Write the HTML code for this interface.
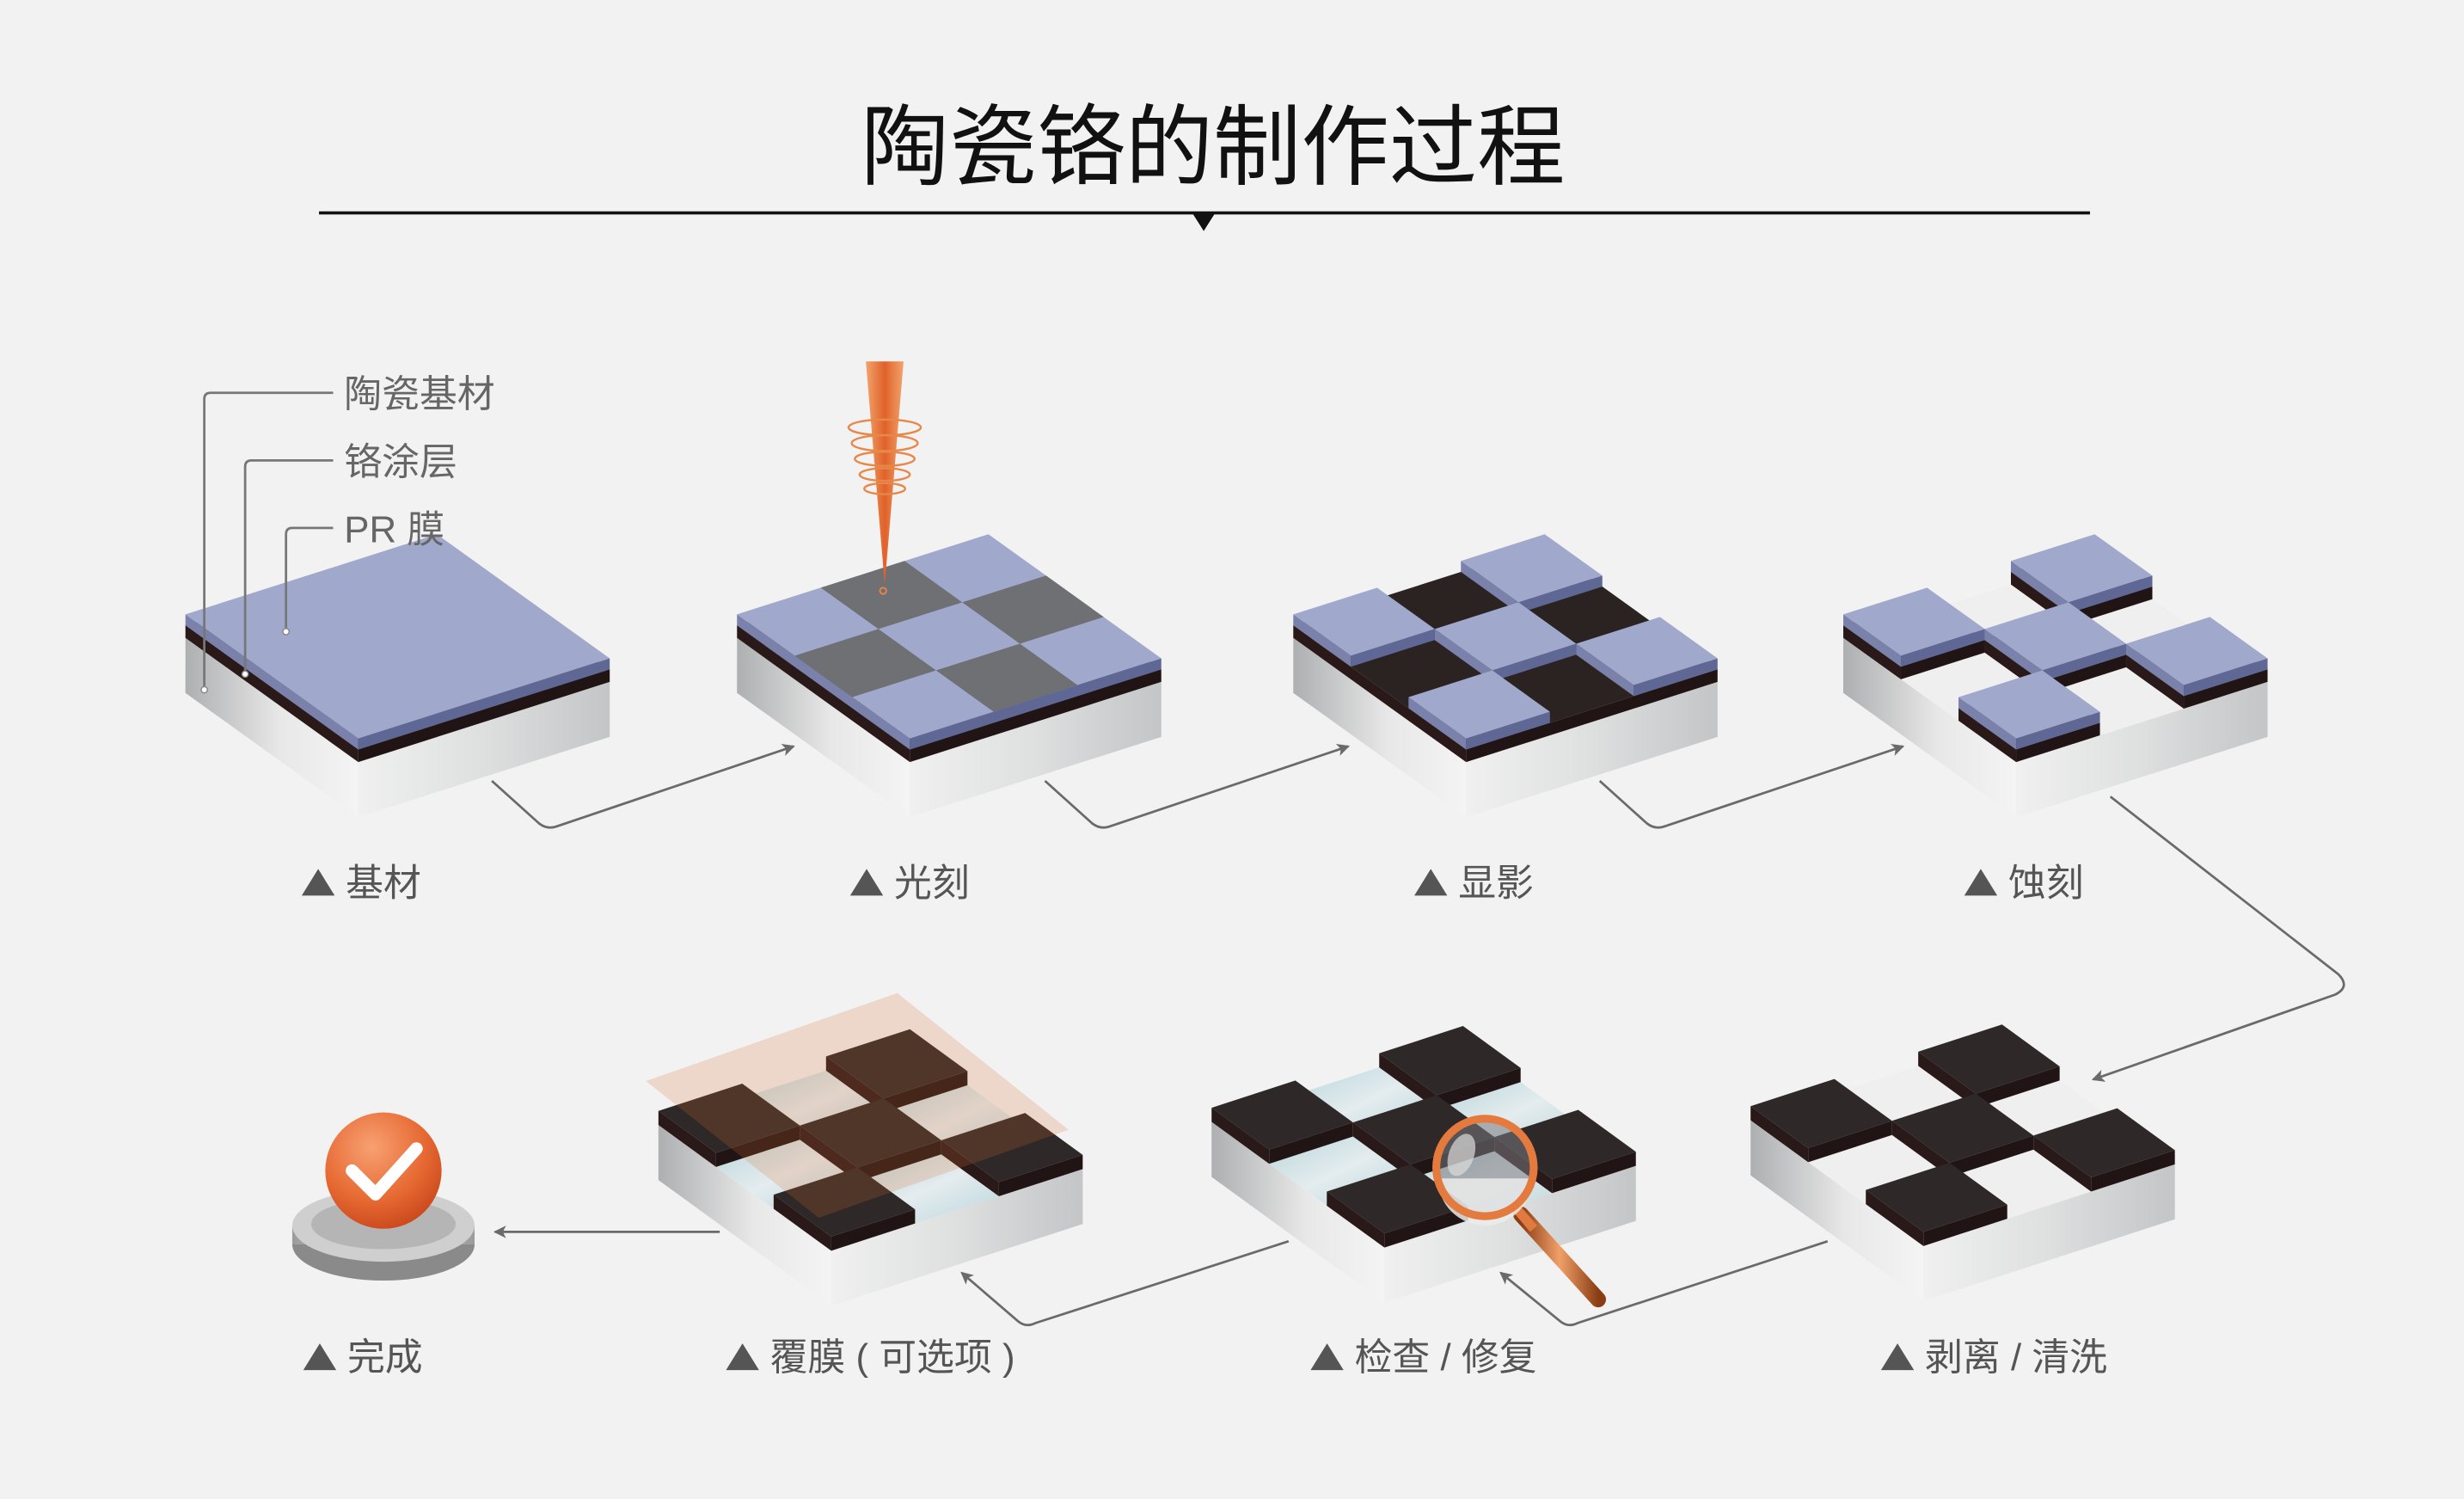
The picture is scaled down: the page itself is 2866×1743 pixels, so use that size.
<!DOCTYPE html>
<html><head><meta charset="utf-8">
<style>
html,body{margin:0;padding:0;background:#f2f2f2;}
svg{display:block;}
text{font-family:"Liberation Sans","Noto Sans CJK SC",sans-serif;}
</style></head>
<body>
<svg id="s" width="2866" height="1743" viewBox="0 0 1568 954" preserveAspectRatio="none" xmlns="http://www.w3.org/2000/svg">
<defs>
<linearGradient id="gl" x1="0" y1="0" x2="1" y2="0"><stop offset="0" stop-color="#aeafb1"/><stop offset="0.55" stop-color="#e8e8e8"/><stop offset="1" stop-color="#f4f4f4"/></linearGradient>
<linearGradient id="gr" x1="0" y1="0" x2="1" y2="0"><stop offset="0" stop-color="#f0f0f0"/><stop offset="0.5" stop-color="#dedfdf"/><stop offset="1" stop-color="#c3c5c7"/></linearGradient>
<linearGradient id="cy" x1="0" y1="0" x2="1" y2="1"><stop offset="0" stop-color="#b9d6dc"/><stop offset="0.5" stop-color="#e4ecee"/><stop offset="1" stop-color="#b9d6dc"/></linearGradient>
<linearGradient id="beam" x1="0" y1="0" x2="1" y2="0"><stop offset="0" stop-color="#f2a36d"/><stop offset="0.5" stop-color="#e0622a"/><stop offset="1" stop-color="#f2a36d"/></linearGradient>
<radialGradient id="ball" cx="0.4" cy="0.3" r="0.75"><stop offset="0" stop-color="#f7a173"/><stop offset="0.6" stop-color="#e76a33"/><stop offset="1" stop-color="#c9461b"/></radialGradient>
<linearGradient id="disk" x1="0" y1="0" x2="1" y2="0"><stop offset="0" stop-color="#9b9b9b"/><stop offset="0.5" stop-color="#d6d6d6"/><stop offset="1" stop-color="#9b9b9b"/></linearGradient>
<linearGradient id="handle" x1="0" y1="0" x2="1" y2="0"><stop offset="0" stop-color="#8a3d14"/><stop offset="0.5" stop-color="#f0a067"/><stop offset="1" stop-color="#8a3d14"/></linearGradient>
<marker id="ar" markerWidth="8" markerHeight="8" refX="7" refY="4" orient="auto" markerUnits="userSpaceOnUse"><path d="M0,0 L8,4 L0,8 L2,4 Z" fill="#6a6a6a"/></marker>
</defs>
<rect width="1568" height="954" fill="#f2f2f2"/>
<g id="blocks"></g>

<text x="772" y="113" font-size="56" text-anchor="middle" fill="#111">陶瓷铬的制作过程</text>
<line x1="203" y1="135.5" x2="1330" y2="135.5" stroke="#111" stroke-width="2"/>
<polygon points="759,136 773,136 766,147" fill="#111"/>

<g fill="none" stroke="#777" stroke-width="1.5">
<path d="M130,438 V254 Q130,250 134,250 H212"/>
<path d="M156,428 V297 Q156,293 160,293 H212"/>
<path d="M182,402 V340 Q182,336 186,336 H212"/>
</g>
<circle cx="130" cy="439" r="2" fill="#fff" stroke="#888" stroke-width="0.8"/>
<circle cx="156" cy="429" r="2" fill="#fff" stroke="#888" stroke-width="0.8"/>
<circle cx="182" cy="402" r="2" fill="#fff" stroke="#888" stroke-width="0.8"/>
<g font-size="24" fill="#666">
<text x="219" y="259">陶瓷基材</text>
<text x="219" y="302">铬涂层</text>
<text x="219" y="345">PR 膜</text>
</g>

<g fill="none" stroke="#6a6a6a" stroke-width="1.5" marker-end="url(#ar)">
<path d="M313,497 L343,524 Q348,528 354,526 L505,475"/>
<path d="M665,497 L695,524 Q700,528 706,526 L858,475"/>
<path d="M1018,497 L1048,524 Q1053,528 1059,526 L1211,475"/>
<path d="M1343,507 L1488,620 Q1496,628 1486,633 L1332,687"/>
<path d="M1163,790 L1004,842 Q998,845 993,841 L955,810"/>
<path d="M820,790 L659,842 Q653,845 648,841 L612,810"/>
<path d="M458,784 L315,784"/>
</g>

<g fill="#555">
<polygon points="192,570 213,570 202.5,553"/>
<polygon points="541,570 562,570 551.5,553"/>
<polygon points="900,570 921,570 910.5,553"/>
<polygon points="1250,570 1271,570 1260.5,553"/>
<polygon points="193,872 214,872 203.5,855"/>
<polygon points="462,872 483,872 472.5,855"/>
<polygon points="834,872 855,872 844.5,855"/>
<polygon points="1197,872 1218,872 1207.5,855"/>
</g>
<g font-size="24" fill="#555">
<text x="220" y="570">基材</text>
<text x="569" y="570">光刻</text>
<text x="928" y="570">显影</text>
<text x="1278" y="570">蚀刻</text>
<text x="221" y="872">完成</text>
<text x="490" y="872">覆膜 ( 可选项 )</text>
<text x="862" y="872">检查 / 修复</text>
<text x="1225" y="872">剥离 / 清洗</text>
</g>

<g id="over"></g>

<polygon points="551,230 575,230 563,372" fill="url(#beam)"/>
<g fill="none" stroke="#e8874a" stroke-width="1.3">
<ellipse cx="563" cy="272" rx="23" ry="5"/>
<ellipse cx="563" cy="282" rx="21" ry="5"/>
<ellipse cx="563" cy="292" rx="19" ry="4.5"/>
<ellipse cx="563" cy="302" rx="16" ry="4"/>
<ellipse cx="563" cy="311" rx="13" ry="3.5"/>
</g>
<circle cx="562" cy="376" r="2" fill="none" stroke="#e8874a"/>

<ellipse cx="244" cy="792" rx="58" ry="23" fill="#8a8a8a"/>
<rect x="186" y="780" width="116" height="12" fill="url(#disk)"/>
<ellipse cx="244" cy="780" rx="58" ry="23" fill="#cfcfcf"/>
<ellipse cx="244" cy="779" rx="46" ry="16" fill="#b5b5b5"/>
<circle cx="244" cy="745" r="37" fill="url(#ball)"/>
<polyline points="224,745 239,760 265,731" fill="none" stroke="#fff" stroke-width="8" stroke-linecap="round" stroke-linejoin="round"/>
</svg>
<script>
(function(){
var NS="http://www.w3.org/2000/svg";
var G=document.getElementById('blocks'), O=document.getElementById('over');
function poly(g,pts,fill){var p=document.createElementNS(NS,'polygon');p.setAttribute('points',pts.map(function(q){return q[0].toFixed(2)+','+q[1].toFixed(2)}).join(' '));p.setAttribute('fill',fill);g.appendChild(p);}
function mk(P,u,v){return function(a,b,z){return [P[0]+a*u[0]+b*v[0],P[1]+a*u[1]+b*v[1]-z];};}
function box(f,a0,b0,a1,b1,z0,z1,top,lf,rf){
 poly(G,[f(a0,b0,z0),f(a1,b0,z0),f(a1,b0,z1),f(a0,b0,z1)],lf);
 poly(G,[f(a1,b0,z0),f(a1,b1,z0),f(a1,b1,z1),f(a1,b0,z1)],rf);
 poly(G,[f(a0,b0,z1),f(a1,b0,z1),f(a1,b1,z1),f(a0,b1,z1)],top);
}
function face(f,a0,b0,a1,b1,z,fill,g){poly(g||G,[f(a0,b0,z),f(a1,b0,z),f(a1,b1,z),f(a0,b1,z)],fill);}
var pat=[[0,2],[0,0],[1,1],[2,2],[2,0]];
var comp=[[0,1],[1,0],[1,2],[2,1]];
var T=1/3;
var PT='#a0a8cc',PL='#7a81aa',PR='#5f6794',BT='#2e2828',BL='#2a1919',BR='#211414';
var u1=[110,79],v1=[160,-51],u2=[110,80],v2=[160,-52];
function base(f){box(f,0,0,1,1,-35,0,'#efefef','url(#gl)','url(#gr)');}
var f=mk([118,406],u1,v1);base(f);box(f,0,0,1,1,0,8,BT,BL,BR);box(f,0,0,1,1,8,15,PT,PL,PR);
f=mk([469,406],u1,v1);base(f);box(f,0,0,1,1,0,8,BT,BL,BR);box(f,0,0,1,1,8,15,PT,PL,PR);
comp.forEach(function(c){face(f,c[0]*T,c[1]*T,(c[0]+1)*T,(c[1]+1)*T,15,'#6f7073');});
f=mk([823,406],u1,v1);base(f);box(f,0,0,1,1,0,8,'#2b2222',BL,BR);
pat.forEach(function(c){box(f,c[0]*T,c[1]*T,(c[0]+1)*T,(c[1]+1)*T,8,15,PT,PL,PR);});
f=mk([1173,406],u1,v1);base(f);
pat.forEach(function(c){box(f,c[0]*T,c[1]*T,(c[0]+1)*T,(c[1]+1)*T,0,8,BT,BL,BR);box(f,c[0]*T,c[1]*T,(c[0]+1)*T,(c[1]+1)*T,8,15,PT,PL,PR);});
f=mk([1114,713],u2,v2);base(f);
pat.forEach(function(c){box(f,c[0]*T,c[1]*T,(c[0]+1)*T,(c[1]+1)*T,0,9,BT,BL,BR);});
f=mk([771,714],u2,v2);base(f);
comp.forEach(function(c){face(f,c[0]*T,c[1]*T,(c[0]+1)*T,(c[1]+1)*T,0,'url(#cy)');});
pat.forEach(function(c){box(f,c[0]*T,c[1]*T,(c[0]+1)*T,(c[1]+1)*T,0,9,BT,BL,BR);});
f=mk([419,716],u2,v2);base(f);
comp.forEach(function(c){face(f,c[0]*T,c[1]*T,(c[0]+1)*T,(c[1]+1)*T,0,'url(#cy)');});
pat.forEach(function(c){box(f,c[0]*T,c[1]*T,(c[0]+1)*T,(c[1]+1)*T,0,9,BT,BL,BR);});
poly(O,[[411,688],[571,632],[680,719],[521,775]],'rgba(222,112,45,0.2)');
var m=document.createElementNS(NS,'g');
m.innerHTML='<line x1="968" y1="773" x2="1017" y2="827" stroke="url(#handle)" stroke-width="10" stroke-linecap="round"/>'+
'<line x1="964" y1="768" x2="976" y2="782" stroke="#e07a40" stroke-width="6"/>'+
'<circle cx="945" cy="743" r="30" fill="rgba(120,120,125,0.55)"/>'+
'<path d="M915,750 A30,30 0 0 0 975,750 Z" fill="rgba(235,235,235,0.85)"/>'+
'<ellipse cx="930" cy="735" rx="8" ry="14" transform="rotate(20 930 735)" fill="rgba(220,220,220,0.7)"/>'+
'<circle cx="945" cy="743" r="31" fill="none" stroke="#e57a3e" stroke-width="5"/>';
O.appendChild(m);
})();
</script>
</body></html>
